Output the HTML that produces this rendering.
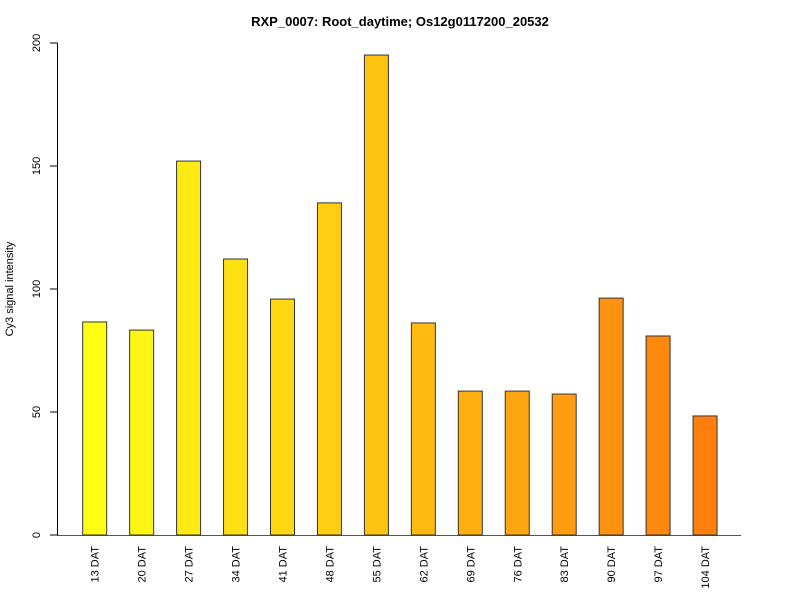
<!DOCTYPE html>
<html><head><meta charset="utf-8"><style>body{margin:0;background:#fff}svg{display:block;font-family:"Liberation Sans",Arial,sans-serif}</style></head>
<body>
<svg id="chart" width="800" height="600" viewBox="0 0 800 600">
<rect width="800" height="600" fill="#fff"/>
<text x="400" y="26" text-anchor="middle" font-size="13" font-weight="bold">RXP_0007: Root_daytime; Os12g0117200_20532</text>
<text transform="translate(13,289) rotate(-90)" text-anchor="middle" font-size="11">Cy3 signal intensity</text>
<g id="axes"></g><g id="bars"></g>
</svg>
<script>
const categories=["13 DAT","20 DAT","27 DAT","34 DAT","41 DAT","48 DAT","55 DAT","62 DAT","69 DAT","76 DAT","83 DAT","90 DAT","97 DAT","104 DAT"];
const values=[86.6,83.3,152,112.2,95.9,135,195.1,86.2,58.5,58.5,57.3,96.3,80.9,48.4];
const yTicks=[0,50,100,150,200];
const NS="http://www.w3.org/2000/svg";
function y(v){return 535-v*(492/200);}
function xc(i){return 94.7+i*46.95;}
const axes=document.getElementById('axes'),bars=document.getElementById('bars');
function mk(t,a,p){const e=document.createElementNS(NS,t);for(const k in a)e.setAttribute(k,a[k]);p.appendChild(e);return e;}
const yl=mk('line',{x1:57.5,x2:57.5,y1:y(200),y2:y(0),stroke:'#000'},axes);


const bl=mk('line',{x1:57,x2:741,y1:535.5,y2:535.5,stroke:'#555'},axes);


yTicks.forEach(t=>{
 const l=mk('line',{x1:50,x2:57.5,y1:y(t),y2:y(t),stroke:'#000'},axes);
 
 
 const tx=mk('text',{transform:`translate(40,${y(t)}) rotate(-90)`,'text-anchor':'middle','font-size':'11'},axes);
 tx.textContent=t;
 
 
});
const n=categories.length;
categories.forEach((c,i)=>{
 const f=i/(n-1);
 const g=Math.round(255-f*128), b=Math.round(20-f*6);
 const r=mk('rect',{x:xc(i)-12,y:y(values[i]),width:24,height:y(0)-y(values[i]),fill:`rgb(255,${g},${b})`,stroke:'#333','stroke-width':1},bars);
 
 
 const t=mk('text',{transform:`translate(${xc(i)+4},546) rotate(-90)`,'text-anchor':'end','font-size':'11'},bars);
 t.textContent=c;
 
 
});
</script>
</body></html>
